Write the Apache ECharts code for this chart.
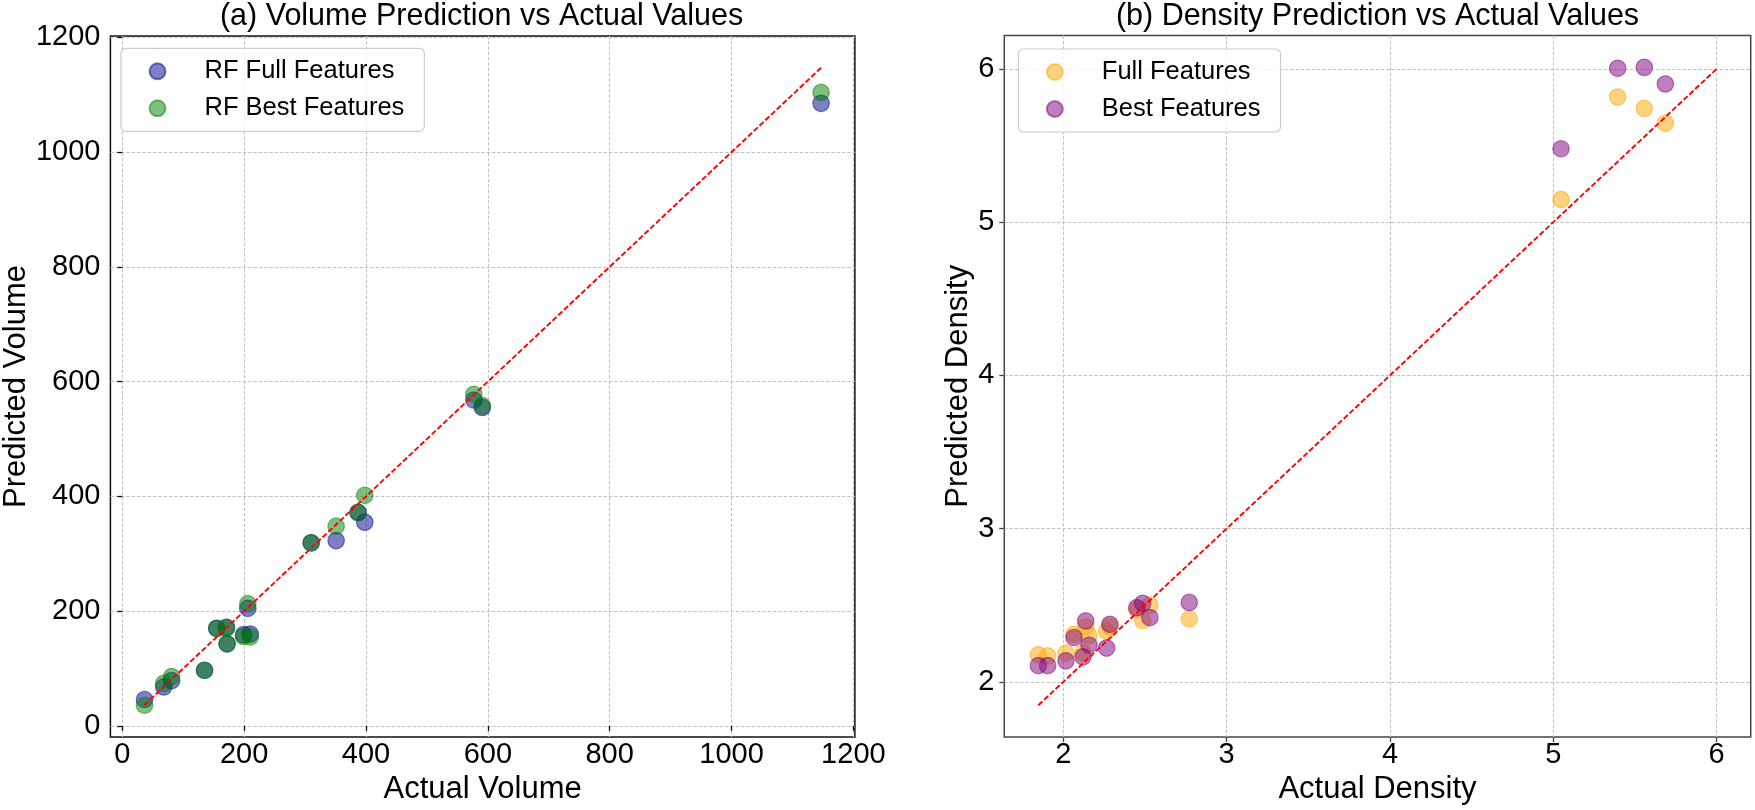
<!DOCTYPE html>
<html>
<head>
<meta charset="utf-8">
<script src="https://cdn.jsdelivr.net/npm/echarts@6/dist/echarts.min.js"></script>
<style>
html,body{margin:0;padding:0;background:#fff;}
#chart{width:1755px;height:810px;}
</style>
</head>
<body>
<div id="chart"></div>
<script>
// ---- Data ----
var volActual = [36.5, 68, 81, 135, 155, 171, 172, 199, 210, 206, 310, 351, 387, 398, 577, 591, 1147];
var volFull   = [46, 68, 79, 97, 170, 172, 143, 159, 160, 205, 319, 323, 372, 355, 568, 555, 1085];
var volBest   = [36, 74, 86, 97, 170, 170, 143, 156, 155, 213, 319, 348, 372, 402, 578, 558, 1104];
var volLine   = [36, 1147];

var denActual = [1.847, 1.904, 2.016, 2.065, 2.12, 2.137, 2.157, 2.265, 2.285, 2.45, 2.486, 2.53, 2.771, 5.047, 5.394, 5.557, 5.686];
var denFull   = [2.176, 2.169, 2.187, 2.31, 2.19, 2.36, 2.30, 2.33, 2.36, 2.47, 2.40, 2.50, 2.41, 5.148, 5.816, 5.742, 5.646];
var denBest   = [2.106, 2.106, 2.137, 2.289, 2.163, 2.397, 2.24, 2.22, 2.375, 2.484, 2.512, 2.419, 2.518, 5.479, 6.004, 6.01, 5.902];
var denLine   = [1.847, 6.01];

var volTicks = [0, 200, 400, 600, 800, 1000, 1200];
var denTicks = [2, 3, 4, 5, 6];

var titles = ['(a) Volume Prediction vs Actual Values', '(b) Density Prediction vs Actual Values'];
var legendNames = [['RF Full Features', 'RF Best Features'], ['Full Features', 'Best Features']];

function pairs(xs, ys) { return xs.map(function (x, i) { return [x, ys[i]]; }); }

var FONT = 'Liberation Sans, Arial, sans-serif';
var chart = echarts.init(document.getElementById('chart'), null, {renderer: 'canvas'});

function makeAxis(idx, min, max, step, name, ticks, nameGap, isY, border) {
  return {
    type: 'value', gridIndex: idx, min: min, max: max,
    minInterval: step, maxInterval: step,
    name: name, nameLocation: 'middle', nameGap: nameGap,
    nameTextStyle: {fontSize: 31, color: '#000', fontFamily: FONT},
    axisLine: {show: false},
    axisTick: {show: true, inside: false, length: 5, customValues: ticks,
               lineStyle: {color: border, width: 1.3}},
    axisLabel: {show: true, customValues: ticks, fontSize: 29, color: '#000',
                fontFamily: FONT, margin: isY ? 10 : 3,
                formatter: function (v) { return String(v); }},
    splitLine: {show: true, lineStyle: {color: '#c4c4c4', width: 1.1, type: [3.5, 1.8]}}
  };
}

function scatter(name, xi, data, color) {
  return {
    name: name, type: 'scatter', xAxisIndex: xi, yAxisIndex: xi,
    data: data, symbol: 'circle', symbolSize: 16.5,
    itemStyle: {color: color, borderColor: color, borderWidth: 1.2, opacity: 0.5},
    emphasis: {disabled: true}, z: 2
  };
}

function diag(xi, lim) {
  return {
    type: 'line', xAxisIndex: xi, yAxisIndex: xi,
    data: [[lim[0], lim[0]], [lim[1], lim[1]]],
    symbol: 'none', silent: true, z: 5,
    lineStyle: {color: '#ff0000', width: 1.9, type: [5.5, 2.4]}
  };
}

function legend(left, top, names) {
  return {
    orient: 'vertical', left: left, top: top, data: names,
    icon: 'circle', itemWidth: 16, itemHeight: 16, itemGap: 11,
    padding: [10, 20, 10, 27.5],
    backgroundColor: 'rgba(255,255,255,0.8)', borderColor: '#cccccc',
    borderWidth: 1.2, borderRadius: 5,
    textStyle: {fontSize: 25.5, color: '#000', fontFamily: FONT, lineHeight: 25,
                padding: [0, 0, 0, 34]},
    selectedMode: false
  };
}

var option = {
  backgroundColor: '#fff',
  animation: false,
  title: [
    {text: titles[0], left: 481.6, top: 1, padding: 0, textAlign: 'center',
     textStyle: {fontSize: 30.5, fontWeight: 'normal', color: '#000', fontFamily: FONT}},
    {text: titles[1], left: 1377.5, top: 1, padding: 0, textAlign: 'center',
     textStyle: {fontSize: 30.5, fontWeight: 'normal', color: '#000', fontFamily: FONT}}
  ],
  grid: [
    {left: 108.3, top: 35.9, width: 746.6, height: 702.4, show: true,
     borderColor: '#111', borderWidth: 1.5, backgroundColor: 'transparent'},
    {left: 1004.3, top: 35.5, width: 746.4, height: 703.6, show: true,
     borderColor: '#444', borderWidth: 1.5, backgroundColor: 'transparent'}
  ],
  legend: [legend(121, 48.3, legendNames[0]), legend(1018.3, 49, legendNames[1])],
  xAxis: [
    makeAxis(0, -19.5, 1202.5, 200, 'Actual Volume', volTicks, 31, false, '#111'),
    makeAxis(1, 1.6385, 6.2085, 1, 'Actual Density', denTicks, 31, false, '#444')
  ],
  yAxis: [
    makeAxis(0, -19.5, 1202.5, 200, 'Predicted Volume', volTicks, 66, true, '#111'),
    makeAxis(1, 1.639, 6.218, 1, 'Predicted Density', denTicks, 27, true, '#444')
  ],
  series: [
    scatter(legendNames[0][0], 0, pairs(volActual, volFull), '#00008b'),
    scatter(legendNames[0][1], 0, pairs(volActual, volBest), '#008000'),
    diag(0, volLine),
    scatter(legendNames[1][0], 1, pairs(denActual, denFull), '#ffa500'),
    scatter(legendNames[1][1], 1, pairs(denActual, denBest), '#800080'),
    diag(1, denLine)
  ]
};
chart.setOption(option);
</script>
</body>
</html>
